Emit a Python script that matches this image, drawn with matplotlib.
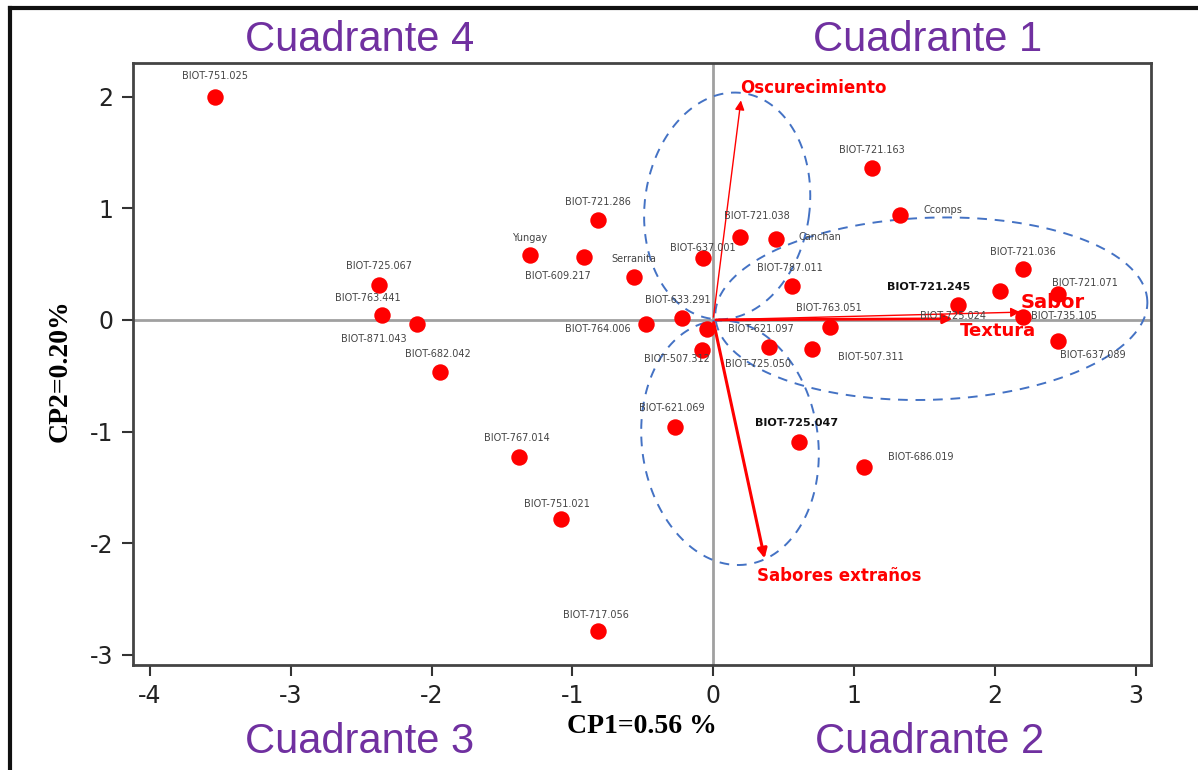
import numpy as np
import matplotlib
matplotlib.use("Agg")
import matplotlib.pyplot as plt
from matplotlib.lines import Line2D

plt.rcParams['axes.unicode_minus'] = False

# ---- data ----
names = ["BIOT-751.025", "BIOT-721.163", "Ccomps", "BIOT-721.286", "BIOT-721.038",
         "Canchan", "Yungay", "BIOT-609.217", "BIOT-637.001", "Serranita",
         "BIOT-725.067", "BIOT-787.011", "BIOT-721.036", "BIOT-721.071", "BIOT-721.245",
         "BIOT-725.024", "BIOT-735.105", "BIOT-637.089", "BIOT-763.441", "BIOT-871.043",
         "BIOT-682.042", "BIOT-633.291", "BIOT-764.006", "BIOT-621.097", "BIOT-507.312",
         "BIOT-725.050", "BIOT-763.051", "BIOT-507.311", "BIOT-621.069", "BIOT-725.047",
         "BIOT-686.019", "BIOT-767.014", "BIOT-751.021", "BIOT-717.056"]
cp1 = [-3.54, 1.13, 1.33, -0.82, 0.19, 0.45, -1.30, -0.92, -0.07, -0.56,
       -2.37, 0.56, 2.20, 2.45, 2.04, 1.74, 2.20, 2.45, -2.35, -2.10,
       -1.94, -0.22, -0.48, -0.04, -0.08, 0.40, 0.83, 0.70, -0.27, 0.61,
       1.07, -1.38, -1.08, -0.82]
cp2 = [2.00, 1.36, 0.94, 0.89, 0.74, 0.72, 0.58, 0.56, 0.55, 0.38,
       0.31, 0.30, 0.46, 0.23, 0.26, 0.13, 0.03, -0.19, 0.04, -0.04,
       -0.47, 0.02, -0.04, -0.08, -0.27, -0.24, -0.06, -0.26, -0.96, -1.09,
       -1.32, -1.23, -1.78, -2.79]
bold_names = ["BIOT-721.245", "BIOT-725.047"]

# loading vectors
var_names = ["Oscurecimiento", "Sabor", "Textura", "Sabores extraños"]
var_cp1 = [0.20, 2.20, 1.72, 0.37]
var_cp2 = [1.99, 0.07, 0.01, -2.16]

# dashed groups: centre, width, height (data units), tilt (deg on screen)
ell_cx = [0.10, 0.12, 1.55]
ell_cy = [1.02, -1.10, 0.10]
ell_w = [1.17, 1.25, 3.07]
ell_h = [2.04, 2.20, 1.63]
ell_ang = [-8, 8, 2]

# ---- label placement (pixel offsets from the point) ----
lbl_off = [(0, 21), (0, 18), (43, 5), (0, 18), (17, 21), (43, 2), (0, 17), (-26, -19),
           (0, 10), (0, 18), (0, 19), (-2, 18), (0, 17), (27, 11), (-72, 4), (-5, -11),
           (41, 1), (35, -14), (-14, 17), (-44, -15), (-2, 18), (-4, 18), (-48, -5),
           (53, 0), (-25, -9), (-11, -17), (-1, 19), (59, -8), (-3, 19), (-2, 19),
           (57, 10), (-2, 19), (-4, 15), (-2, 16)]
var_off = [(-1, 10), (-2, 10), (5, -12), (-8, -15)]
var_size = [12, 14, 13, 12]
var_lw = [1.0, 1.0, 2.0, 2.2]

fig = plt.figure(figsize=(11.98, 7.70), dpi=100)
ax = fig.add_axes([133/1198, 1-665/770, (1151-133)/1198, (665-63)/770])
ax.set_xlim(-4.12, 3.11)
ax.set_ylim(-3.09, 2.30)

ax.axhline(0, color="#a0a0a0", lw=2, zorder=1)
ax.axvline(0, color="#a0a0a0", lw=2, zorder=1)

# ellipses drawn in screen proportions so the tilt looks right
bb = ax.get_window_extent()
sx = bb.width / (3.11 + 4.12)
sy = bb.height / (2.30 + 3.09)
t = np.linspace(0, 2*np.pi, 300)
for cx, cy, w, h, a in zip(ell_cx, ell_cy, ell_w, ell_h, ell_ang):
    A = w*sx/2
    B = h*sy/2
    phi = np.radians(a)
    dx = A*np.cos(t)*np.cos(phi) - B*np.sin(t)*np.sin(phi)
    dy = A*np.cos(t)*np.sin(phi) + B*np.sin(t)*np.cos(phi)
    ax.plot(cx + dx/sx, cy + dy/sy, color="#4472c4", lw=1.4, ls=(0, (5, 4)), zorder=2)

ax.scatter(cp1, cp2, s=140, color="#ff0000", zorder=4, linewidths=0)

for n, x, y, off in zip(names, cp1, cp2, lbl_off):
    if n in bold_names:
        ax.annotate(n, (x, y), xytext=off, textcoords="offset pixels", ha="center", va="center",
                    fontsize=8, fontweight="bold", color="#111111", zorder=5)
    else:
        ax.annotate(n, (x, y), xytext=off, textcoords="offset pixels", ha="center", va="center",
                    fontsize=7, color="#444444", zorder=5)

for n, x, y, off, fs, lw in zip(var_names, var_cp1, var_cp2, var_off, var_size, var_lw):
    ax.annotate("", xy=(x, y), xytext=(0, 0),
                arrowprops=dict(arrowstyle="-|>", color="#ff0000", lw=lw, mutation_scale=14),
                zorder=3)
    ax.annotate(n, (x, y), xytext=off, textcoords="offset pixels", ha="left", va="center",
                fontsize=fs, fontweight="bold", color="#ff0000", zorder=5)

ax.set_xticks([-4, -3, -2, -1, 0, 1, 2, 3])
ax.set_yticks([-3, -2, -1, 0, 1, 2])
ax.tick_params(length=8, width=1.5, color="#333333", labelsize=17, labelcolor="#222222", pad=6)
for s in ax.spines.values():
    s.set_color("#444444")
    s.set_linewidth(2)

fig.text(0.536, 0.056, "CP1=0.56 %", ha="center", va="center", fontsize=20,
         fontweight="bold", family=["Liberation Serif", "DejaVu Serif"])
fig.text(0.050, 0.519, "CP2=0.20%", ha="center", va="center", fontsize=20, rotation=90,
         fontweight="bold", family=["Liberation Serif", "DejaVu Serif"])

quad = ["Cuadrante 4", "Cuadrante 1", "Cuadrante 3", "Cuadrante 2"]
quad_xy = [(0.3005, 0.948), (0.7746, 0.948), (0.3005, 0.036), (0.7763, 0.036)]
for q, (qx, qy) in zip(quad, quad_xy):
    fig.text(qx, qy, q, ha="center", va="center", fontsize=30, color="#7030a0",
             family=["Liberation Sans", "DejaVu Sans"])

# outer frame lines (top and left)
fig.add_artist(Line2D([10/1198, 1], [1-8/770, 1-8/770], transform=fig.transFigure,
                      color="#111111", lw=3))
fig.add_artist(Line2D([10/1198, 10/1198], [0, 1-8/770], transform=fig.transFigure,
                      color="#111111", lw=3))

fig.savefig("out.png", dpi=100)
